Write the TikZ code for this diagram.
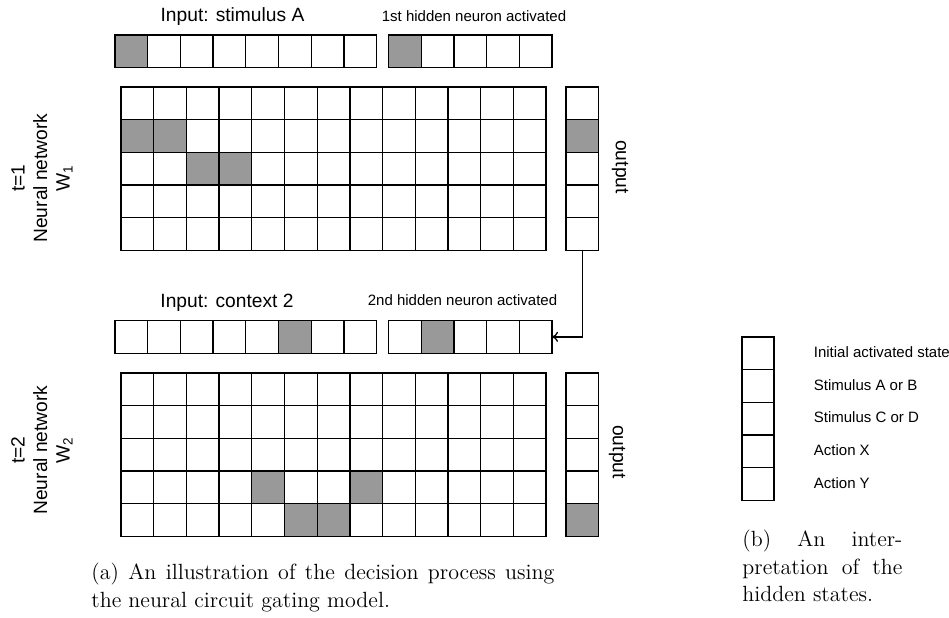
\documentclass[tikz,border=0pt]{standalone}
\usepackage{fontspec}
\newfontfamily\arialfont{Liberation Sans}
\usetikzlibrary{arrows.meta}
\definecolor{cellgray}{RGB}{153,153,153}

\tikzset{
  cell/.style={draw, line width=0.65pt, minimum size=16.35pt, inner sep=0pt, outer sep=0pt, anchor=north west, fill=white},
  oncell/.style={fill=cellgray, draw=black, line width=0.65pt},
  bigtext/.style={font=\arialfont\fontsize{9.6}{11.25}\selectfont, inner sep=0.75pt},
  smalltext/.style={font=\arialfont\fontsize{7.5}{9}\selectfont, inner sep=0.75pt},
  captext/.style={font=\fontsize{11}{13.6}\selectfont, align=justify, inner sep=0pt, anchor=north west},
}

\begin{document}
\begin{tikzpicture}[x=0.5pt,y=0.5pt,yscale=-1,xscale=1]
\useasboundingbox (0,0) rectangle (949,617);

%Cells t=1
\foreach \c in {1,...,8} \node[cell] (ia-\c) at ({115+(\c-1)*32.7},35) {};
\foreach \c in {1,...,5} \node[cell] (ha-\c) at ({388.5+(\c-1)*32.7},35) {};
\foreach \r in {1,...,5}{
  \foreach \c in {1,...,13} \node[cell] (wa-\r-\c) at ({121+(\c-1)*32.7},{87+(\r-1)*32.7}) {};
  \node[cell] (oa-\r) at (566,{87+(\r-1)*32.7}) {};
}
%Cells t=2
\foreach \c in {1,...,8} \node[cell] (ib-\c) at ({115+(\c-1)*32.7},320.5) {};
\foreach \c in {1,...,5} \node[cell] (hb-\c) at ({388.5+(\c-1)*32.7},320.5) {};
\foreach \r in {1,...,5}{
  \foreach \c in {1,...,13} \node[cell] (wb-\r-\c) at ({121+(\c-1)*32.7},{373+(\r-1)*32.7}) {};
  \node[cell] (ob-\r) at (566,{373+(\r-1)*32.7}) {};
}
%Legend cells
\foreach \r in {1,...,5} \node[cell, minimum width=16pt] (key-\r) at (742,{337+(\r-1)*32.7}) {};

%Activated cells
\foreach \n in {ia-1,ha-1,wa-2-1,wa-2-2,wa-3-3,wa-3-4,oa-2,ib-6,hb-2,wb-4-5,wb-4-8,wb-5-6,wb-5-7,ob-5}
  \filldraw[oncell] (\n.south west) rectangle (\n.north east);

%Straight Lines
\draw[-{To[length=3pt,width=5pt]}, line width=0.65pt] (oa-5.south) |- (hb-5.east);

% Text Node
\node[bigtext] (inlabela) at (232.5,17) {Input: stimulus A};
% Text Node
\node[smalltext] (hidlabela) at (474,16) {1st hidden neuron activated};
% Text Node
\node[bigtext] (inlabelb) at (227,303) {Input: context 2};
% Text Node
\node[smalltext] (hidlabelb) at (462.5,300) {2nd hidden neuron activated};
% Text Node
\node[bigtext, rotate=90, align=center] (neta) at (42,178) {t=1\\Neural network\\W\textsubscript{1}};
% Text Node
\node[bigtext, rotate=90, align=center] (netb) at (42,450) {t=2\\Neural network\\W\textsubscript{2}};
% Text Node
\node[bigtext, rotate=-90] (outa) at (620,167) {output};
% Text Node
\node[bigtext, rotate=-90] (outb) at (617,452) {output};

% Legend Text
\node[smalltext, anchor=west] (keytext-1) at (812,352) {Initial activated state};
\node[smalltext, anchor=west] (keytext-2) at (812,385) {Stimulus A or B};
\node[smalltext, anchor=west] (keytext-3) at (812,417) {Stimulus C or D};
\node[smalltext, anchor=west] (keytext-4) at (812,450) {Action X};
\node[smalltext, anchor=west] (keytext-5) at (812,483) {Action Y};

% Captions
\node[captext, text width=231.5pt] (capa) at (91,563) {(a) An illustration of the decision process using the neural circuit gating model.};
\node[captext, text width=80pt] (capb) at (742,530) {(b) An inter-\linebreak pretation of the\linebreak hidden states.};

\end{tikzpicture}
\end{document}
